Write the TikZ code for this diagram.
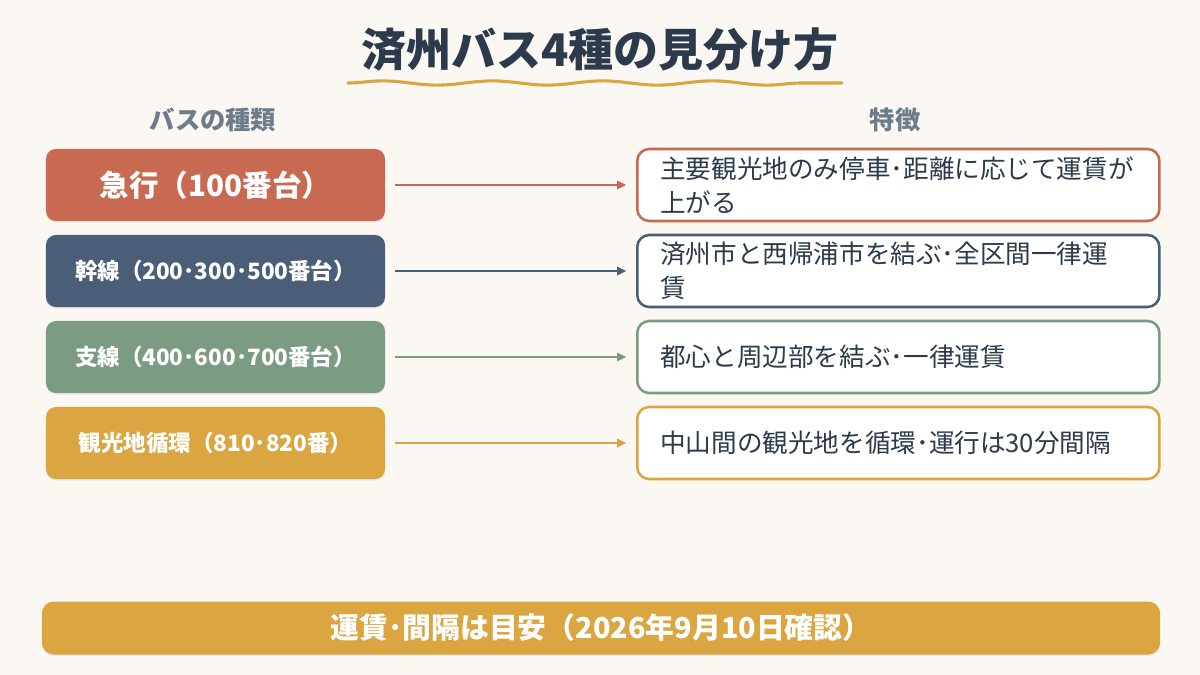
\documentclass[tikz,border=0pt]{standalone}
\usepackage{fontspec}
\setmainfont{Noto Sans CJK JP}
\usetikzlibrary{arrows.meta,positioning,shadows,decorations.pathmorphing}
\definecolor{paper}{RGB}{251,247,243}
\definecolor{ink}{RGB}{44,58,75}
\definecolor{muted}{RGB}{110,123,138}
\definecolor{rust}{RGB}{200,106,81}
\definecolor{slate}{RGB}{74,94,119}
\definecolor{sage}{RGB}{123,155,130}
\definecolor{gold}{RGB}{219,166,66}
\tikzset{
  kind/.style={rounded corners=2.5mm, minimum width=8.475cm, minimum height=1.8cm, inner sep=0pt,
    text=white, font=\bfseries\fontsize{16}{19}\selectfont,
    drop shadow={shadow xshift=0pt, shadow yshift=-1.2pt, opacity=0.12}},
  feat/.style={draw, line width=1.8pt, fill=white, rounded corners=3mm, minimum height=1.8cm,
    text width=11.9cm, inner xsep=5.75mm, align=left, text=ink, anchor=west,
    font=\fontsize{18.2}{24}\selectfont},
  flow/.style={-{Triangle[length=6.5pt,width=6pt]}, line width=1.3pt, shorten <=7pt, shorten >=7pt},
  head/.style={font=\bfseries\fontsize{18}{22}\selectfont, text=muted}
}
\begin{document}
\begin{tikzpicture}[x=0.025cm,y=-0.025cm]
  \fill[paper] (0,0) rectangle (1200,675);
  \useasboundingbox (0,0) rectangle (1200,675);
  \node[font=\bfseries\fontsize{32}{38}\selectfont, text=ink] (title) at (600,50) {済州バス4種の見分け方};
  \draw[gold, line width=2.2pt, line cap=round, decorate,
    decoration={snake, segment length=2.75cm, amplitude=1.5pt}] (348,83) -- (842,83);
  \node[head] (lefthead) at (213,120) {バスの種類};
  \node[head] (righthead) at (895,120) {特徴};
  \node[kind, fill=rust, font=\bfseries\fontsize{21}{24}\selectfont] (kind1) at (215.5,185) {急行（100番台）};
  \node[kind, fill=slate] (kind2) at (215.5,271) {幹線（200･300･500番台）};
  \node[kind, fill=sage] (kind3) at (215.5,357) {支線（400･600･700番台）};
  \node[kind, fill=gold] (kind4) at (215.5,443) {観光地循環（810･820番）};
  \node[feat, draw=rust] (feat1) at (636,185) {主要観光地のみ停車･距離に応じて運賃が\\上がる};
  \node[feat, draw=slate] (feat2) at (636,271) {済州市と西帰浦市を結ぶ･全区間一律運\\賃};
  \node[feat, draw=sage] (feat3) at (636,357) {都心と周辺部を結ぶ･一律運賃};
  \node[feat, draw=gold] (feat4) at (636,443) {中山間の観光地を循環･運行は30分間隔};
  \foreach \i/\c in {1/rust,2/slate,3/sage,4/gold}
    \draw[flow,\c] (kind\i) -- (feat\i);
  \node[kind, fill=gold, minimum width=27.95cm, minimum height=1.325cm, rounded corners=3mm,
    font=\bfseries\fontsize{20.5}{24}\selectfont] (note) at (601,628) {運賃･間隔は目安（2026年9月10日確認）};
\end{tikzpicture}
\end{document}
